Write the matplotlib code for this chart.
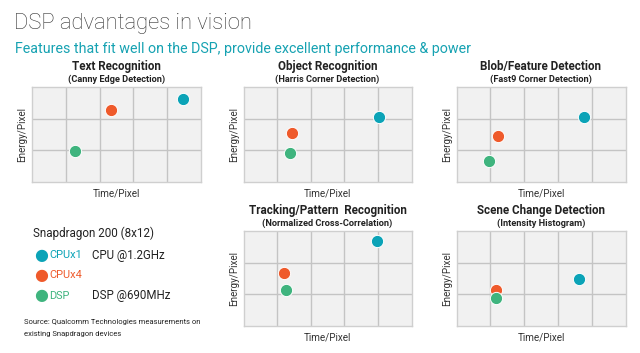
import matplotlib
matplotlib.use("Agg")
import matplotlib.pyplot as plt

plt.rcParams['font.family'] = ['Roboto', 'DejaVu Sans']

# ---- data (axes are unitless grids 0-5 x 0-3) ----
panel_titles = ["Text Recognition", "Object Recognition", "Blob/Feature Detection",
                "Tracking/Pattern  Recognition", "Scene Change Detection"]
panel_subtitles = ["(Canny Edge Detection)", "(Harris Corner Detection)",
                   "(Fast9 Corner Detection)", "(Normalized Cross-Correlation)",
                   "(Intensity Histogram)"]
series = ["CPUx1", "CPUx4", "DSP"]
time_per_pixel = {
    "CPUx1": [4.47, 4.02, 3.78, 3.97, 3.63],
    "CPUx4": [2.35, 1.43, 1.23, 1.20, 1.16],
    "DSP":   [1.28, 1.38, 0.96, 1.27, 1.16],
}
energy_per_pixel = {
    "CPUx1": [2.63, 2.04, 2.04, 2.67, 1.47],
    "CPUx4": [2.28, 1.54, 1.46, 1.67, 1.13],
    "DSP":   [0.98, 0.91, 0.65, 1.13, 0.87],
}
colors = {"CPUx1": "#0ba3b7", "CPUx4": "#ef5a2b", "DSP": "#3fb47e"}
legend_notes = {"CPUx1": "CPU @1.2GHz", "CPUx4": "", "DSP": "DSP @690MHz"}

W, H = 640, 353
fig = plt.figure(figsize=(W / 100, H / 100), dpi=100)
fig.patch.set_facecolor("white")

def fx(px):
    return px / W

def fy(py):
    return 1 - py / H

# axes boxes in pixels: (left, top, right, bottom)
boxes = [(32, 87, 201, 182), (243.5, 87, 411.5, 182), (456.5, 87, 625.5, 182),
         (243.5, 231, 411.5, 326), (456.5, 231, 625.5, 326)]

for i, (l, t, r, b) in enumerate(boxes):
    ax = fig.add_axes([fx(l), fy(b), fx(r - l), (b - t) / H])
    ax.set_facecolor("#f1f1f1")
    ax.set_xlim(0, 5)
    ax.set_ylim(0, 3)
    ax.set_xticks([1, 2, 3, 4])
    ax.set_yticks([1, 2])
    ax.tick_params(length=0, labelbottom=False, labelleft=False)
    ax.grid(True, color="#c4c4c4", linewidth=1.0)
    ax.set_axisbelow(True)
    for s in ax.spines.values():
        s.set_color("#cfcfcf")
        s.set_linewidth(1.0)
    for name in series:
        ax.scatter(time_per_pixel[name][i], energy_per_pixel[name][i], s=78,
                   color=colors[name], edgecolor="white", linewidth=0.7, zorder=3)
    cx = (l + r) / 2
    fig.text(fx(cx), fy(t - 20.5), panel_titles[i], ha="center", va="center",
             fontsize=8.4, fontweight="bold", color="#222222")
    fig.text(fx(cx), fy(t - 7.5), panel_subtitles[i], ha="center", va="center",
             fontsize=6.7, fontweight="bold", color="#222222")
    fig.text(fx(cx), fy(b + 11.5), "Time/Pixel", ha="center", va="center",
             fontsize=7.1, color="#333333")
    fig.text(fx(l - 9.5), fy((t + b) / 2), "Energy/Pixel", ha="center", va="center",
             rotation=90, fontsize=7.1, color="#333333")

# header
fig.text(fx(14), fy(24), "DSP advantages in vision", ha="left", va="center",
         fontsize=15.8, fontweight="light", color="#333333")
fig.text(fx(15), fy(49), "Features that fit well on the DSP, provide excellent performance & power",
         ha="left", va="center", fontsize=10.3, color="#16a2b2")

# legend block
fig.text(fx(33), fy(233), "Snapdragon 200 (8x12)", ha="left", va="center",
         fontsize=8.4, color="#222222")
leg_y = [255, 275, 296]
for name, yy in zip(series, leg_y):
    fig.text(fx(34), fy(yy), "\u25cf", ha="left", va="center", fontsize=11.5,
             color=colors[name], family="DejaVu Sans")
    fig.text(fx(49), fy(yy), name, ha="left", va="center", fontsize=7.9,
             color=colors[name])
    if legend_notes[name]:
        fig.text(fx(92), fy(yy), legend_notes[name], ha="left", va="center",
                 fontsize=8.3, color="#222222")
fig.text(fx(24), fy(322), "Source: Qualcomm Technologies measurements on",
         ha="left", va="center", fontsize=5.5, color="#222222")
fig.text(fx(24), fy(334), "existing Snapdragon devices",
         ha="left", va="center", fontsize=5.5, color="#222222")

fig.savefig("out.png", dpi=100, facecolor="white")
